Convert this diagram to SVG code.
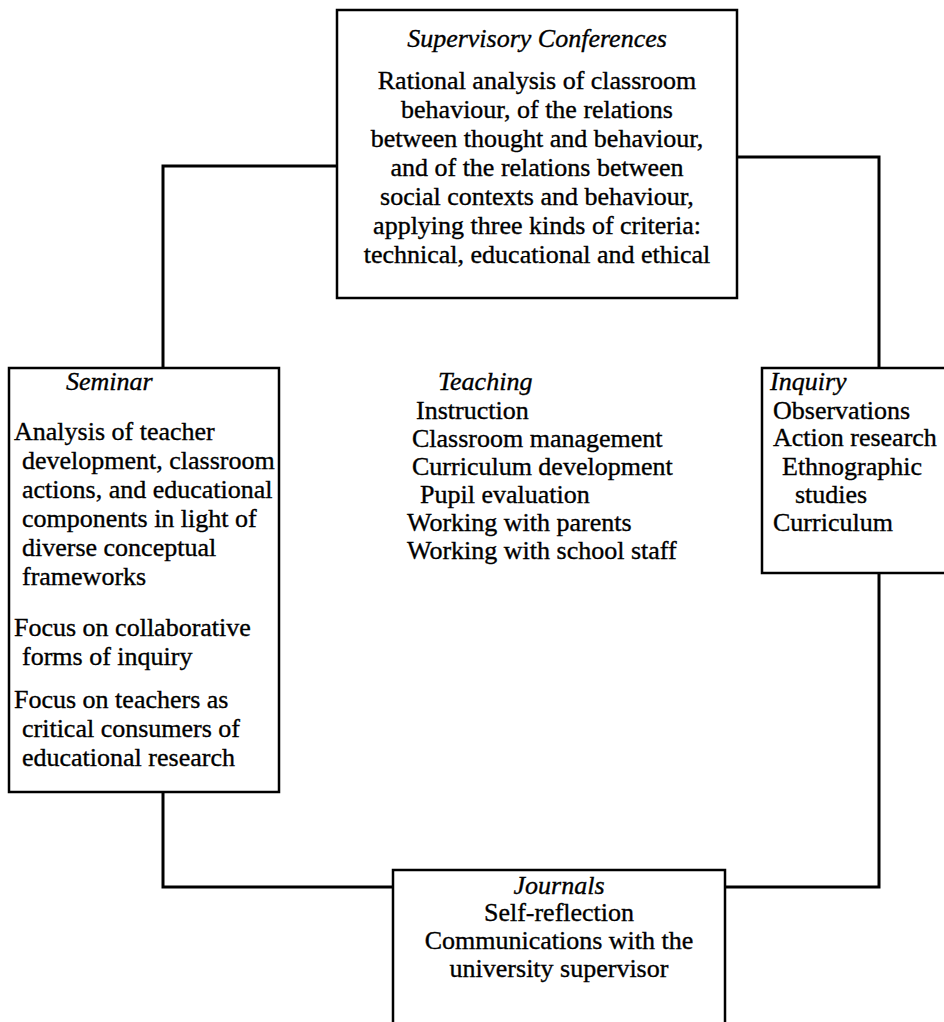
<svg xmlns="http://www.w3.org/2000/svg" width="944" height="1022" viewBox="0 0 944 1022">
  <style>
    .box { fill: #fff; stroke: #000; stroke-width: 2.5; }
    .link { fill: none; stroke: #000; stroke-width: 3; }
    text { font-family: "Liberation Serif", "Times New Roman", serif; font-size: 26px; fill: #000; stroke: #000; stroke-width: 0.35; }
    .title { font-style: italic; }
    .mid { text-anchor: middle; }
  </style>
  <rect width="944" height="1022" fill="#fff"/>

  <!-- connectors forming the loop between the four activity boxes -->
  <g id="connectors">
    <path class="link" d="M337,166 H163 V368"/>
    <path class="link" d="M737,157 H879 V368"/>
    <path class="link" d="M879,573 V887 H725"/>
    <path class="link" d="M163,792 V887 H393"/>
  </g>

  <g id="supervisory-conferences">
    <rect class="box" x="337" y="10" width="400" height="288"/>
    <text class="title mid" x="537" y="47">Supervisory Conferences</text>
    <text class="mid" x="537" y="89">Rational analysis of classroom</text>
    <text class="mid" x="537" y="118">behaviour, of the relations</text>
    <text class="mid" x="537" y="147">between thought and behaviour,</text>
    <text class="mid" x="537" y="176">and of the relations between</text>
    <text class="mid" x="537" y="205">social contexts and behaviour,</text>
    <text class="mid" x="537" y="234">applying three kinds of criteria:</text>
    <text class="mid" x="537" y="263">technical, educational and ethical</text>
  </g>

  <g id="seminar">
    <rect class="box" x="9" y="368" width="270" height="424"/>
    <text class="title" x="66" y="390">Seminar</text>
    <text x="14" y="440">Analysis of teacher</text>
    <text x="22" y="469">development, classroom</text>
    <text x="22" y="498">actions, and educational</text>
    <text x="22" y="527">components in light of</text>
    <text x="22" y="556">diverse conceptual</text>
    <text x="22" y="585">frameworks</text>
    <text x="14" y="636">Focus on collaborative</text>
    <text x="22" y="665">forms of inquiry</text>
    <text x="14" y="708">Focus on teachers as</text>
    <text x="22" y="737">critical consumers of</text>
    <text x="22" y="766">educational research</text>
  </g>

  <g id="teaching">
    <text class="title" x="438" y="390">Teaching</text>
    <text x="416" y="419">Instruction</text>
    <text x="412" y="447">Classroom management</text>
    <text x="412" y="475">Curriculum development</text>
    <text x="420" y="503">Pupil evaluation</text>
    <text x="407" y="531">Working with parents</text>
    <text x="407" y="559">Working with school staff</text>
  </g>

  <g id="inquiry">
    <rect class="box" x="762" y="368" width="190" height="205"/>
    <text class="title" x="770" y="390">Inquiry</text>
    <text x="773" y="419">Observations</text>
    <text x="773" y="446">Action research</text>
    <text x="782" y="475">Ethnographic</text>
    <text x="795" y="503">studies</text>
    <text x="773" y="531">Curriculum</text>
  </g>

  <g id="journals">
    <rect class="box" x="393" y="870" width="332" height="170"/>
    <text class="title mid" x="559" y="894">Journals</text>
    <text class="mid" x="559" y="921">Self-reflection</text>
    <text class="mid" x="559" y="949">Communications with the</text>
    <text class="mid" x="559" y="977">university supervisor</text>
  </g>
</svg>
